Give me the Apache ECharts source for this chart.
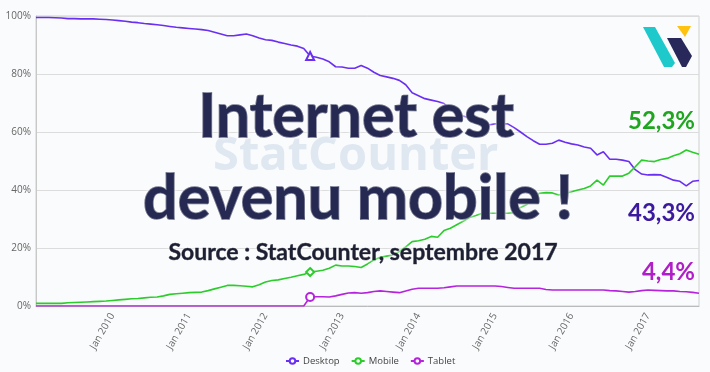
<!DOCTYPE html>
<html>
<head>
<meta charset="utf-8">
<script src="https://cdn.jsdelivr.net/npm/echarts@6/dist/echarts.min.js"></script>
<style>
html,body{margin:0;padding:0;background:#fafbfc;}
#chart{width:710px;height:372px;}
</style>
</head>
<body>
<div id="chart"></div>
<script>
// Monthly categories Jan 2009 .. Sep 2017
const years = [2009, 2010, 2011, 2012, 2013, 2014, 2015, 2016, 2017];
const monthNames = ['Jan','Feb','Mar','Apr','May','Jun','Jul','Aug','Sep','Oct','Nov','Dec'];
const categories = [];
years.forEach(function (y) {
  monthNames.forEach(function (m, k) {
    if (y === 2017 && k > 8) return;
    categories.push(m + ' ' + y);
  });
});

const desktop = [
  99.5, 99.5, 99.5, 99.4, 99.3, 99.1, 99.1, 99.0, 99.0, 99.0, 98.9,
  98.8, 98.6, 98.4, 98.2, 97.9, 97.7, 97.4, 97.2, 97.0, 96.7,
  96.4, 96.1, 95.9, 95.7, 95.5, 95.3, 95.0, 94.4, 93.8, 93.2,
  93.2, 93.5, 93.8, 93.2, 92.4, 91.8, 91.6, 91.0, 90.5, 90.0, 89.6, 88.8,
  86.2, 85.8, 85.2, 84.2, 82.5, 82.4, 82.0, 82.0, 82.9,
  82.0, 80.6, 79.5, 79.0, 78.5, 77.8, 76.3, 73.5,
  72.5, 71.5, 71.0, 70.5, 69.8, 68.0, 66.5, 65.5, 64.8, 64.0,
  62.8, 62.4, 62.8, 62.8, 62.8, 61.5, 60.0, 58.4, 57.0, 55.8,
  55.8, 56.1, 57.2, 56.5, 55.9, 55.5, 54.8, 54.4, 52.1, 53.2,
  50.6, 50.6, 50.3, 49.8, 47.0, 45.5,
  45.2, 45.3, 45.2, 44.3, 43.4, 43.0, 41.4, 43.0, 43.3
];
const mobile = [
  0.9, 0.9, 0.9, 0.9, 0.9, 1.1, 1.2, 1.3, 1.4, 1.5,
  1.6, 1.7, 1.9, 2.1, 2.3, 2.5, 2.6, 2.8, 3.0, 3.1,
  3.5, 4.0, 4.2, 4.4, 4.6, 4.7, 4.8, 5.3, 5.9, 6.5,
  7.1, 7.1, 7.0, 6.8, 6.6, 7.3, 8.3, 8.8, 9.0, 9.5,
  9.9, 10.4, 10.9, 11.7, 12.0, 12.3, 13.0, 14.1,
  13.8, 13.8, 13.6, 13.3, 14.5, 15.9, 16.8, 17.2,
  17.6, 18.8, 20.4, 22.2, 22.5, 23.0, 24.0, 23.7, 26.0,
  26.8, 28.0, 29.2, 30.5, 31.2, 32.0, 32.0, 32.0, 32.0, 32.0,
  32.2, 34.0, 35.0, 37.5, 38.9, 39.1, 39.0, 38.3, 38.9, 39.4,
  40.0, 40.5, 41.4, 43.4, 41.7, 44.8, 44.8, 44.8, 45.8, 48.0, 50.3,
  50.0, 49.8, 50.5, 50.9, 51.8, 52.5, 53.8, 53.0, 52.3
];
const tablet = [
  0, 0, 0, 0, 0, 0, 0, 0, 0, 0, 0, 0, 0, 0, 0, 0, 0, 0, 0, 0, 0,
  0, 0, 0, 0, 0, 0, 0, 0, 0, 0, 0, 0, 0, 0, 0, 0, 0, 0, 0, 0, 0, 0,
  3.1, 3.2, 3.2, 3.1, 3.5, 4.0, 4.5, 4.6, 4.4,
  4.6, 5.0, 5.2, 5.0, 4.8, 4.6, 5.2, 5.8, 6.1, 6.1, 6.1, 6.1,
  6.3, 6.6, 6.9, 6.9, 6.9, 6.9, 6.9, 6.9, 6.9, 6.7, 6.4,
  6.1, 6.1, 6.1, 6.1, 6.1, 5.7, 5.5, 5.5, 5.5, 5.5, 5.5, 5.5, 5.5, 5.5, 5.5,
  5.3, 5.2, 5.0, 4.8, 5.0, 5.3, 5.5, 5.4, 5.3, 5.2, 5.2, 5.0, 4.9, 4.7, 4.4
];
const yTicks = [0, 20, 40, 60, 80, 100];
const markerIndex = 43;

const seriesDefs = [
  { name: 'Desktop', data: desktop, color: '#6a2ff2', marker: 'emptyTriangle' },
  { name: 'Mobile', data: mobile, color: '#2ccc2c', marker: 'emptyDiamond' },
  { name: 'Tablet', data: tablet, color: '#b523dd', marker: 'emptyCircle' }
];

const chart = echarts.init(document.getElementById('chart'));
const uiFont = '"Open Sans", sans-serif';
const titleFont = 'Lato, sans-serif';
const halo = { textShadowColor: 'rgba(255,255,255,0.95)', textShadowBlur: 4 };

function titleText(text, x, y, size, fill, strokeW) {
  return {
    type: 'text', z: 10, x: x, y: y,
    style: Object.assign({ text: text, font: 'bold ' + size + 'px ' + titleFont, fill: fill, stroke: fill, lineWidth: strokeW, align: 'center', verticalAlign: 'top' }, halo)
  };
}

chart.setOption({
  backgroundColor: '#fafbfc',
  animation: false,
  grid: { left: 36, right: 11, top: 16, bottom: 66, show: true, borderColor: '#cfcfcf', borderWidth: 1 },
  legend: {
    top: 356, left: 285, padding: 0, itemGap: 11, itemWidth: 13, itemHeight: 7,
    textStyle: { color: '#444', fontSize: 9.5, fontFamily: uiFont, padding: [0, 0, 0, -1] },
    data: seriesDefs.map(function (s) { return s.name; })
  },
  xAxis: {
    type: 'category', data: categories, boundaryGap: false,
    axisLine: { lineStyle: { color: '#bbb' } },
    axisTick: { show: false },
    axisLabel: {
      rotate: 60, color: '#666', fontSize: 10, fontFamily: uiFont, margin: 8,
      interval: function (i, v) { return v.indexOf('Jan') === 0 && v !== 'Jan 2009'; }
    },
    splitLine: { show: false }
  },
  yAxis: {
    type: 'value', min: yTicks[0], max: yTicks[yTicks.length - 1], interval: 20,
    axisLine: { show: true, lineStyle: { color: '#c8c8c8', width: 1 } },
    axisTick: { show: false },
    axisLabel: { color: '#666', fontSize: 10, fontFamily: uiFont, margin: 5, formatter: '{value}%' },
    splitLine: { lineStyle: { color: '#dcdcdc' } }
  },
  series: seriesDefs.map(function (s) {
    return {
      name: s.name, type: 'line', color: s.color,
      symbol: 'emptyCircle', symbolSize: 7, showSymbol: true, showAllSymbol: true,
      lineStyle: { width: 1.6, color: s.color },
      itemStyle: { color: s.color, borderColor: s.color, borderWidth: 1 },
      data: s.data.map(function (v, i) {
        return i === markerIndex
          ? { value: v, symbol: s.marker, symbolSize: 8 }
          : { value: v, symbol: 'none' };
      }),
      z: 2
    };
  }),
  graphic: [
    { type: 'text', z: 1, left: 213, top: 133, style: { text: 'StatCounter', font: 'bold 47px ' + uiFont, fill: '#dfe7f1' } },
    titleText('Internet est', 356, 87, 61, '#262a52', 1.5),
    titleText('devenu mobile !', 358, 169, 61, '#262a52', 1.5),
    titleText('Source : StatCounter, septembre 2017', 363, 241, 23, '#1d1f33', 0.6),
    { type: 'text', z: 10, x: 695, y: 109, style: { text: '52,3%', font: 'bold 24px ' + titleFont, fill: '#1fa51f', align: 'right', verticalAlign: 'top' } },
    { type: 'text', z: 10, x: 695, y: 201, style: { text: '43,3%', font: 'bold 24px ' + titleFont, fill: '#3b1a9e', align: 'right', verticalAlign: 'top' } },
    { type: 'text', z: 10, x: 695, y: 260, style: { text: '4,4%', font: 'bold 24px ' + titleFont, fill: '#b01ec8', align: 'right', verticalAlign: 'top' } },
    { type: 'polygon', z: 10, shape: { points: [[643, 27], [655, 27], [675, 63], [672, 67], [664, 67]] }, style: { fill: '#1ec9cc' } },
    { type: 'polygon', z: 10, shape: { points: [[667, 38], [681, 38], [692, 56], [686, 67], [682, 67]] }, style: { fill: '#28285a' } },
    { type: 'polygon', z: 10, shape: { points: [[677, 26], [691, 26], [685, 37]] }, style: { fill: '#ffc20e' } }
  ]
});
</script>
</body>
</html>
